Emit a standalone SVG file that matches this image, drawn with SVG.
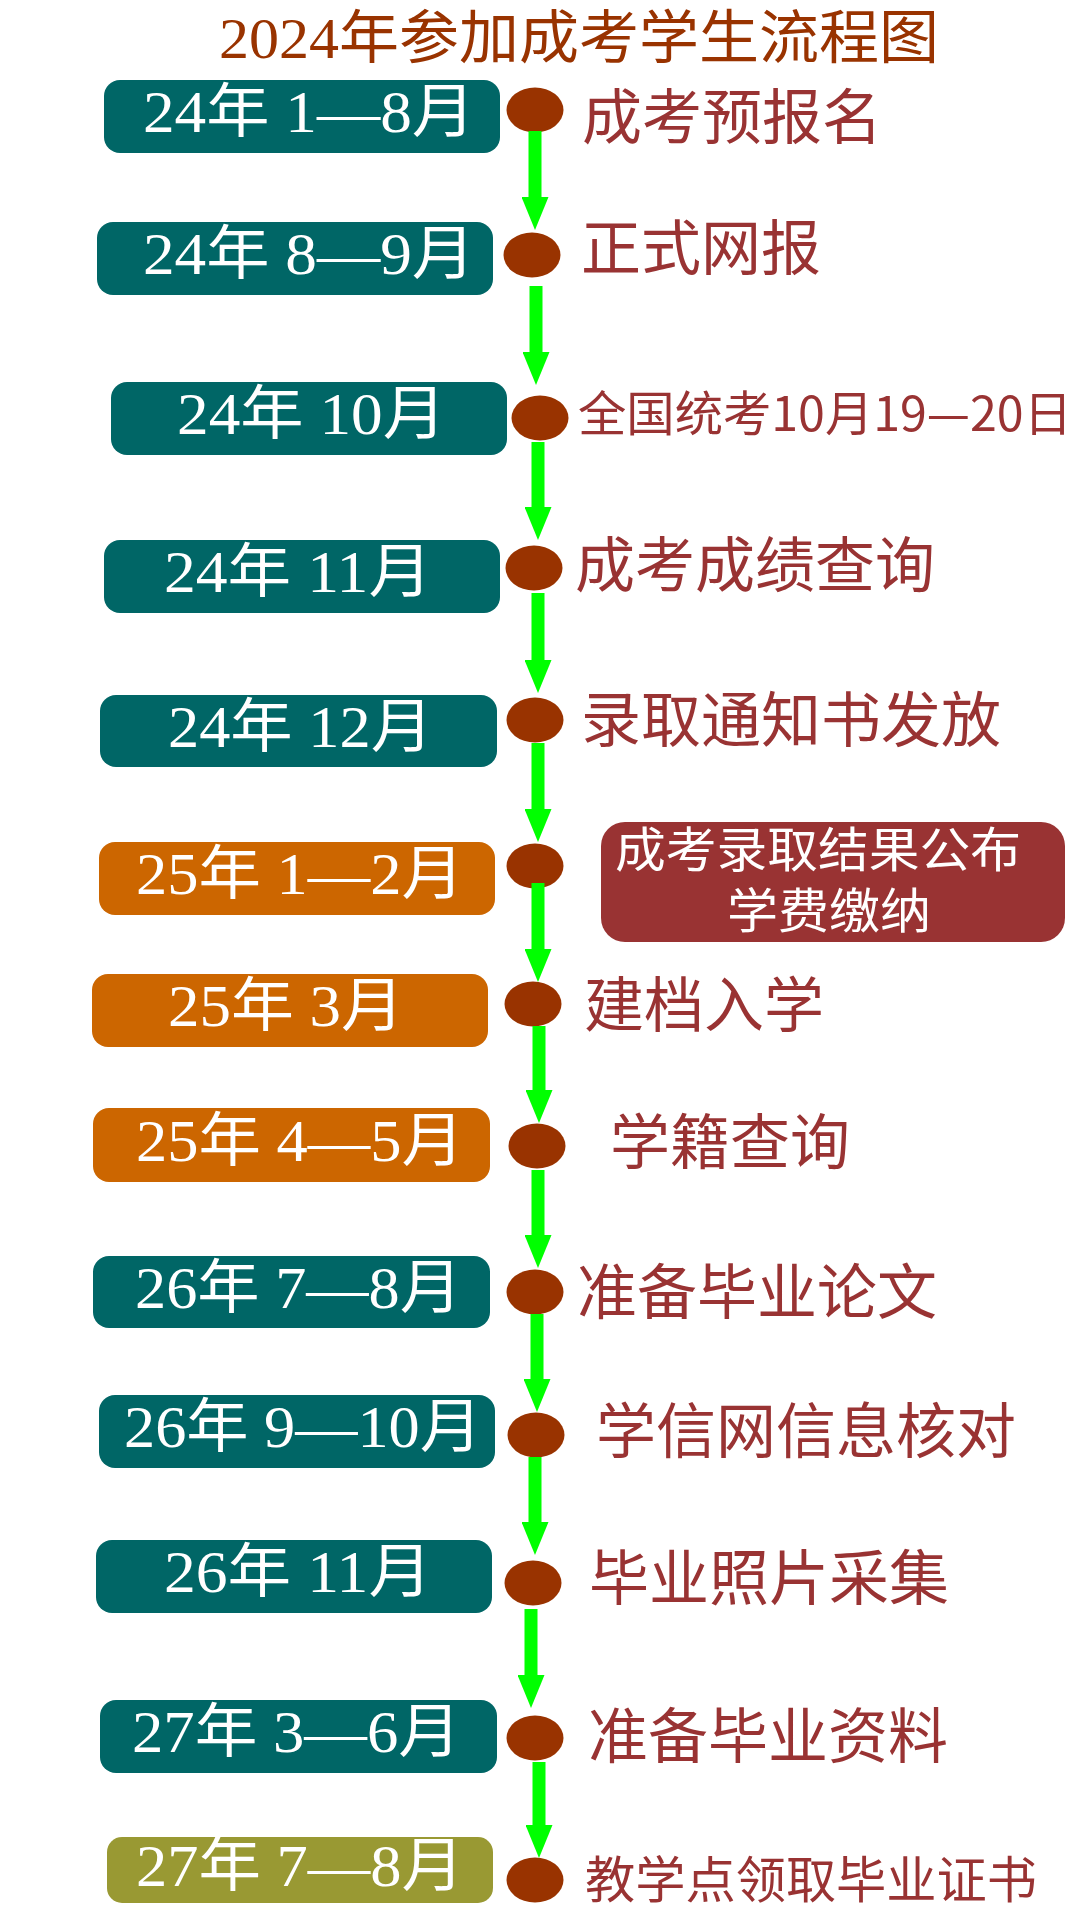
<svg xmlns="http://www.w3.org/2000/svg" width="1080" height="1920" viewBox="0 0 1080 1920">
<defs>
<style>
.teal{fill:#006666}
.orange{fill:#CC6600}
.olive{fill:#999933}
.dot{fill:#993300}
.bt{fill:#ffffff;font-family:"Liberation Serif","Noto Sans CJK SC",serif;font-size:59px}
.lb{fill:#993333;font-family:"Noto Sans CJK SC",sans-serif;font-size:60px}
.wt{fill:#ffffff;font-family:"Noto Sans CJK SC",sans-serif;font-size:48px}
.title{fill:#993300;font-family:"Liberation Serif","Noto Sans CJK SC",serif;font-size:58px}
.conn{stroke:#00FF00;stroke-width:13;fill:none}
</style>
<marker id="ah" viewBox="0 0 33 27" refX="0" refY="13.5" markerWidth="33" markerHeight="27" markerUnits="userSpaceOnUse" orient="auto">
<path d="M0,0 L33,13.5 L0,27 z" fill="#00FF00"/>
</marker>
</defs>
<rect width="1080" height="1920" fill="#ffffff"/>
<text class="title" x="219" y="58" textLength="720" lengthAdjust="spacingAndGlyphs">2024年参加成考学生流程图</text>

<g id="n1"><rect class="teal" x="104" y="80" width="396" height="73" rx="16"/><text class="bt" x="143" y="132" textLength="332" lengthAdjust="spacingAndGlyphs">24年 1—8月</text><ellipse class="dot" cx="535" cy="110" rx="28.5" ry="22.5"/><text class="lb" x="582" y="139">成考预报名</text></g>
<g id="n2"><rect class="teal" x="97" y="222" width="396" height="73" rx="16"/><text class="bt" x="143" y="274" textLength="332" lengthAdjust="spacingAndGlyphs">24年 8—9月</text><ellipse class="dot" cx="532" cy="255" rx="28.5" ry="22.5"/><text class="lb" x="581" y="270">正式网报</text></g>
<g id="n3"><rect class="teal" x="111" y="382" width="396" height="73" rx="16"/><text class="bt" x="177" y="434" textLength="269" lengthAdjust="spacingAndGlyphs">24年 10月</text><ellipse class="dot" cx="540" cy="418" rx="28.5" ry="22.5"/><text class="lb" x="578" y="431" style="font-size:48px" textLength="494" lengthAdjust="spacingAndGlyphs">全国统考10月19—20日</text></g>
<g id="n4"><rect class="teal" x="104" y="540" width="396" height="73" rx="16"/><text class="bt" x="164" y="592" textLength="268" lengthAdjust="spacingAndGlyphs">24年 11月</text><ellipse class="dot" cx="534" cy="568" rx="28.5" ry="22.5"/><text class="lb" x="575" y="587">成考成绩查询</text></g>
<g id="n5"><rect class="teal" x="100" y="695" width="397" height="72" rx="16"/><text class="bt" x="168" y="747" textLength="265" lengthAdjust="spacingAndGlyphs">24年 12月</text><ellipse class="dot" cx="535" cy="720" rx="28.5" ry="22.5"/><text class="lb" x="581" y="742">录取通知书发放</text></g>
<g id="n6"><rect class="orange" x="99" y="842" width="396" height="73" rx="16"/><text class="bt" x="136" y="894" textLength="328" lengthAdjust="spacingAndGlyphs">25年 1—2月</text><ellipse class="dot" cx="535" cy="866" rx="28.5" ry="22.5"/><rect x="601" y="822" width="464" height="120" rx="24" fill="#993333"/><text class="wt" x="615" y="867" textLength="406" lengthAdjust="spacingAndGlyphs">成考录取结果公布</text><text class="wt" x="727" y="928" textLength="204" lengthAdjust="spacingAndGlyphs">学费缴纳</text></g>
<g id="n7"><rect class="orange" x="92" y="974" width="396" height="73" rx="16"/><text class="bt" x="168" y="1026" textLength="236" lengthAdjust="spacingAndGlyphs">25年 3月</text><ellipse class="dot" cx="533" cy="1004" rx="28.5" ry="22.5"/><text class="lb" x="584" y="1027">建档入学</text></g>
<g id="n8"><rect class="orange" x="93" y="1108" width="397" height="74" rx="16"/><text class="bt" x="136" y="1161" textLength="328" lengthAdjust="spacingAndGlyphs">25年 4—5月</text><ellipse class="dot" cx="537" cy="1146" rx="28.5" ry="22.5"/><text class="lb" x="610" y="1164">学籍查询</text></g>
<g id="n9"><rect class="teal" x="93" y="1256" width="397" height="72" rx="16"/><text class="bt" x="135" y="1308" textLength="327" lengthAdjust="spacingAndGlyphs">26年 7—8月</text><ellipse class="dot" cx="535" cy="1292" rx="28.5" ry="22.5"/><text class="lb" x="577" y="1314">准备毕业论文</text></g>
<g id="n10"><rect class="teal" x="99" y="1395" width="396" height="73" rx="16"/><text class="bt" x="124" y="1447" textLength="358" lengthAdjust="spacingAndGlyphs">26年 9—10月</text><ellipse class="dot" cx="536" cy="1435" rx="28.5" ry="22.5"/><text class="lb" x="596" y="1453">学信网信息核对</text></g>
<g id="n11"><rect class="teal" x="96" y="1540" width="396" height="73" rx="16"/><text class="bt" x="164" y="1592" textLength="268" lengthAdjust="spacingAndGlyphs">26年 11月</text><ellipse class="dot" cx="533" cy="1583" rx="28.5" ry="22.5"/><text class="lb" x="589" y="1600">毕业照片采集</text></g>
<g id="n12"><rect class="teal" x="100" y="1700" width="397" height="73" rx="16"/><text class="bt" x="132" y="1752" textLength="329" lengthAdjust="spacingAndGlyphs">27年 3—6月</text><ellipse class="dot" cx="535" cy="1738" rx="28.5" ry="22.5"/><text class="lb" x="588" y="1758">准备毕业资料</text></g>
<g id="n13"><rect class="olive" x="107" y="1837" width="386" height="66" rx="15"/><text class="bt" x="136" y="1886" textLength="328" lengthAdjust="spacingAndGlyphs">27年 7—8月</text><ellipse class="dot" cx="535" cy="1880" rx="28.5" ry="22.5"/><text class="lb" x="585" y="1898" style="font-size:50px" textLength="452" lengthAdjust="spacingAndGlyphs">教学点领取毕业证书</text></g>

<g id="connectors">
<line class="conn" x1="535" y1="131" x2="535" y2="197" marker-end="url(#ah)"/>
<line class="conn" x1="536" y1="286" x2="536" y2="352" marker-end="url(#ah)"/>
<line class="conn" x1="538" y1="442" x2="538" y2="507" marker-end="url(#ah)"/>
<line class="conn" x1="538" y1="593" x2="538" y2="660" marker-end="url(#ah)"/>
<line class="conn" x1="538" y1="743" x2="538" y2="809" marker-end="url(#ah)"/>
<line class="conn" x1="538" y1="883" x2="538" y2="949" marker-end="url(#ah)"/>
<line class="conn" x1="539" y1="1026" x2="539" y2="1090" marker-end="url(#ah)"/>
<line class="conn" x1="538" y1="1170" x2="538" y2="1235" marker-end="url(#ah)"/>
<line class="conn" x1="537" y1="1314" x2="537" y2="1379" marker-end="url(#ah)"/>
<line class="conn" x1="535" y1="1457" x2="535" y2="1522" marker-end="url(#ah)"/>
<line class="conn" x1="531" y1="1609" x2="531" y2="1675" marker-end="url(#ah)"/>
<line class="conn" x1="539" y1="1762" x2="539" y2="1825" marker-end="url(#ah)"/>
</g>
</svg>
